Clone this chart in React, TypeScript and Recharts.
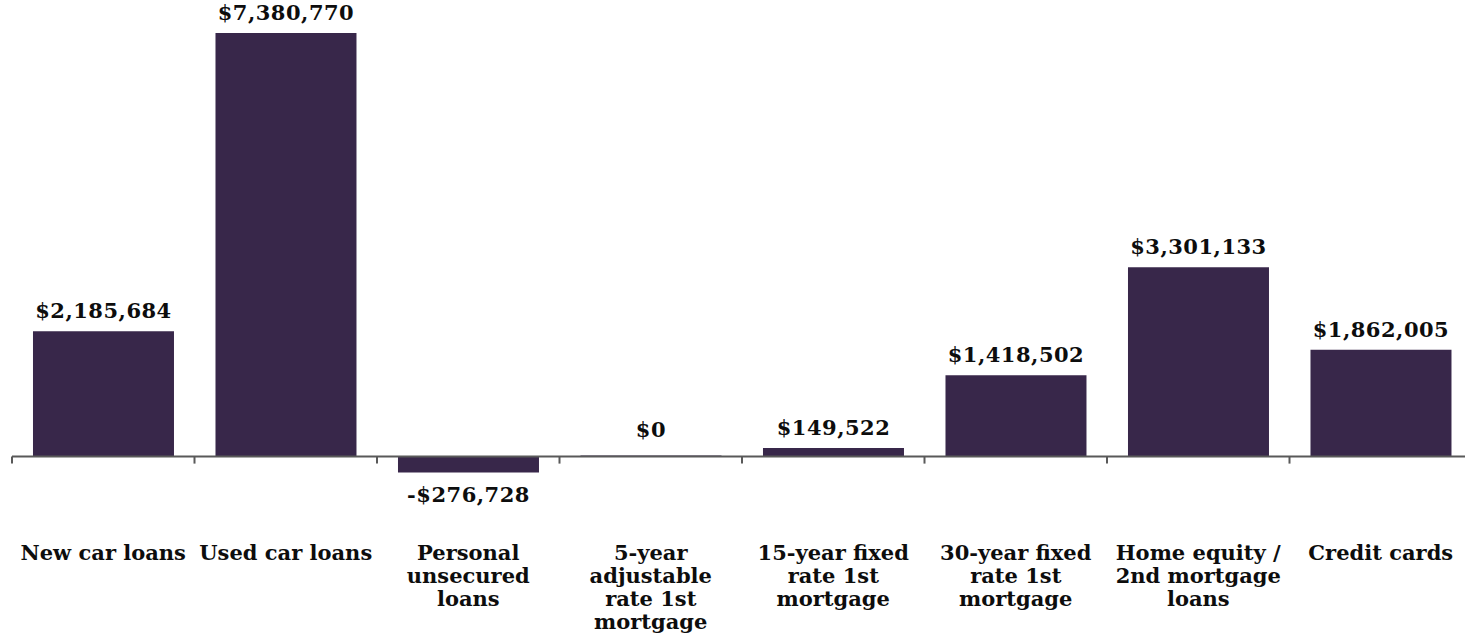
import React from "react";
import { BarChart, Bar, XAxis, YAxis, ReferenceLine, LabelList } from "recharts";

// ── Data ───────────────────────────────────────────────────────────────────

const categories = [
  "New car loans",
  "Used car loans",
  "Personal\nunsecured\nloans",
  "5-year\nadjustable\nrate 1st\nmortgage",
  "15-year fixed\nrate 1st\nmortgage",
  "30-year fixed\nrate 1st\nmortgage",
  "Home equity /\n2nd mortgage\nloans",
  "Credit cards",
];

const values = [2185684, 7380770, -276728, 0, 149522, 1418502, 3301133, 1862005];

const data = categories.map((category, i) => ({ category, value: values[i] }));

// ── Styles ─────────────────────────────────────────────────────────────────

const barColor = "#38274a";
const axisColor = "#595959";
const font = "'DejaVu Serif', serif";

const fmt = (v: number) =>
  (v < 0 ? "-$" : "$") + Math.abs(v).toLocaleString("en-US");

// category label, one tspan per line
function CategoryTick({ x, y, payload }: any) {
  const lines = String(payload.value).split("\n");
  return (
    <text
      x={x}
      y={y}
      textAnchor="middle"
      fontFamily={font}
      fontWeight="bold"
      fontSize={21}
      fill="#0d0d0d"
    >
      {lines.map((line, i) => (
        <tspan key={i} x={x} dy={i === 0 ? 38 : 23}>
          {line}
        </tspan>
      ))}
    </text>
  );
}

// zero line with category boundary ticks
function ZeroAxis({ x1, y1, x2, y2 }: any) {
  const n = categories.length;
  const step = (x2 - x1) / n;
  return (
    <g>
      <line x1={x1} y1={y1} x2={x2} y2={y2} stroke={axisColor} strokeWidth={2} />
      {Array.from({ length: n + 1 }, (_, i) => (
        <line
          key={i}
          x1={x1 + i * step}
          x2={x1 + i * step}
          y1={y1}
          y2={y1 + 7}
          stroke={axisColor}
          strokeWidth={2}
        />
      ))}
    </g>
  );
}

function ValueLabel({ x, y, width, height, value }: any) {
  const top = Math.min(y, y + height);
  const bottom = Math.max(y, y + height);
  let ly = top - 13;
  if (value < 0) ly = bottom + 30;
  if (value === 0) ly = top - 19;
  return (
    <text
      x={x + width / 2}
      y={ly}
      textAnchor="middle"
      fontFamily={font}
      fontWeight="bold"
      fontSize={21}
      letterSpacing={0.5}
      fill="#0d0d0d"
    >
      {fmt(value)}
    </text>
  );
}

export default function App() {
  return (
    <div
      style={{
        position: "absolute",
        left: 0,
        top: 0,
        width: 1465,
        height: 641,
        overflow: "hidden",
        background: "#fff",
      }}
    >
      <BarChart
        width={1472}
        height={641}
        data={data}
        margin={{ top: 33, right: 0, left: 12, bottom: 27 }}
        barCategoryGap="11.5%"
      >
        <XAxis
          dataKey="category"
          height={100}
          axisLine={false}
          tickLine={false}
          interval={0}
          tick={<CategoryTick />}
        />
        <YAxis hide domain={[-1000000, 7380770]} allowDataOverflow />
        <Bar dataKey="value" fill={barColor} minPointSize={1} isAnimationActive={false}>
          <LabelList dataKey="value" content={<ValueLabel />} />
        </Bar>
        <ReferenceLine y={0} shape={<ZeroAxis />} />
      </BarChart>
    </div>
  );
}
